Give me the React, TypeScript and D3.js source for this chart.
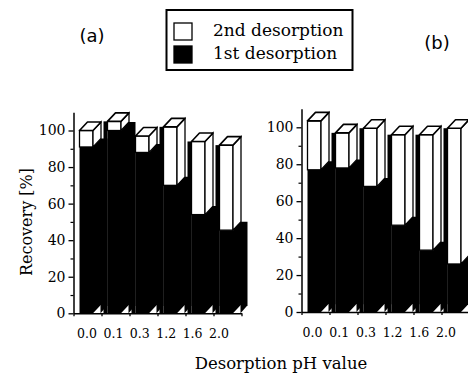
import React, { useEffect, useRef } from "react";
import * as d3 from "d3";

// desorption pH values (x categories)
const phValues = ["0.0", "0.1", "0.3", "1.2", "1.6", "2.0"];
// panel (a)
const firstA = [91, 100, 88, 70, 54, 45.5];
const secondA = [9, 5, 9, 32, 40, 46.5];
// panel (b)
const firstB = [77, 78, 68, 47, 33.5, 26];
const secondB = [26.5, 19, 31.5, 49, 62.5, 73.5];

const yTicks = [0, 20, 40, 60, 80, 100];
const legendItems = [
  { label: "2nd desorption", fill: "#fff" },
  { label: "1st desorption", fill: "#000" },
];

const SERIF = "'DejaVu Serif', serif";

function drawPanel(
  svg: d3.Selection<SVGSVGElement, unknown, null, undefined>,
  axisX: number,
  y0: number,
  pxPerUnit: number,
  labelX0: number,
  labelX1: number,
  first: number[],
  second: number[]
) {
  const step = 28,
    off = 6,
    w = 13.5,
    dx = 8,
    dy = 8.5;
  const g = svg.append("g");

  const x = d3
    .scaleBand()
    .domain(phValues)
    .range([axisX, axisX + step * phValues.length])
    .paddingInner(0)
    .paddingOuter(0);
  const y = d3
    .scaleLinear()
    .domain([0, 110])
    .range([y0, y0 - 110 * pxPerUnit]);
  const base = y(0);

  phValues.forEach((c, i) => {
    const fL = (x(c) as number) + off;
    const fR = fL + w;
    const sR = fR + dx;
    const nFL = fL + step;
    const yF = y(first[i]);
    const yT = y(first[i] + second[i]);

    // dark strip just left of the front face (behind the bar)
    if (i > 0) {
      g.append("rect")
        .attr("x", fL - 4)
        .attr("y", yT)
        .attr("width", 4)
        .attr("height", base - yT)
        .attr("fill", "#000");
    }
    // dark gap to the right, white triangle at the foot
    g.append("polygon")
      .attr(
        "points",
        [
          [sR - 0.5, yF - dy],
          [nFL, yF - dy],
          [nFL, base - 8],
          [sR - 0.5, base],
        ].join(" ")
      )
      .attr("fill", "#000");

    // 1st desorption (black) front + side
    g.append("rect")
      .attr("x", fL)
      .attr("y", yF)
      .attr("width", w)
      .attr("height", base - yF)
      .attr("fill", "#000");
    g.append("polygon")
      .attr(
        "points",
        [
          [fR, yF],
          [sR, yF - dy],
          [sR, base - dy],
          [fR, base],
        ].join(" ")
      )
      .attr("fill", "#000");

    // 2nd desorption (white) front + side
    g.append("rect")
      .attr("x", fL)
      .attr("y", yT)
      .attr("width", w)
      .attr("height", yF - yT)
      .attr("fill", "#fff")
      .attr("stroke", "#000")
      .attr("stroke-width", 1.3);
    g.append("polygon")
      .attr(
        "points",
        [
          [fR, yT],
          [sR, yT - dy],
          [sR, yF - dy],
          [fR, yF],
        ].join(" ")
      )
      .attr("fill", "#fff")
      .attr("stroke", "#000")
      .attr("stroke-width", 1.3);
    // top face
    g.append("polygon")
      .attr(
        "points",
        [
          [fL, yT],
          [fL + dx, yT - dy],
          [sR, yT - dy],
          [fR, yT],
        ].join(" ")
      )
      .attr("fill", "#fff")
      .attr("stroke", "#000")
      .attr("stroke-width", 1.6)
      .attr("stroke-linejoin", "round");
  });

  // Y axis, minor ticks every 10
  g.append("g")
    .attr("transform", `translate(${axisX},0)`)
    .call(
      d3
        .axisLeft(y)
        .tickValues(d3.range(10, 110, 20))
        .tickSize(3)
        .tickSizeOuter(0)
        .tickFormat(() => "")
    )
    .call((a) => a.select(".domain").remove())
    .selectAll("line")
    .attr("stroke-width", 1.2);
  const ya = g
    .append("g")
    .attr("transform", `translate(${axisX},0)`)
    .call(
      d3
        .axisLeft(y)
        .tickValues(yTicks)
        .tickSize(5)
        .tickSizeOuter(0)
        .tickPadding(3)
    )
    .attr("font-family", SERIF)
    .attr("font-size", 14);
  ya.select(".domain").attr("stroke-width", 1.5);
  ya.selectAll("line").attr("stroke-width", 1.3);
  ya.selectAll("text").attr("fill", "#000");

  // X axis
  const xa = g
    .append("g")
    .attr("transform", `translate(0,${base})`)
    .call(
      d3
        .axisBottom(d3.scaleLinear().domain([0, 6]).range([axisX, axisX + step * 6]))
        .ticks(6)
        .tickSize(3)
        .tickSizeOuter(0)
        .tickFormat(() => "")
    );
  xa.select(".domain").attr("stroke-width", 1.5);
  xa.selectAll("line").attr("stroke-width", 1.3);

  const xl = d3.scalePoint().domain(phValues).range([labelX0, labelX1]);
  g.selectAll(".xlab")
    .data(phValues)
    .enter()
    .append("text")
    .attr("x", (d) => xl(d) as number)
    .attr("y", base + 25)
    .attr("text-anchor", "middle")
    .attr("font-family", SERIF)
    .attr("font-size", 12.5)
    .text((d) => d);
}

function createChart(el: SVGSVGElement) {
  const svg = d3.select(el);
  svg.selectAll("*").remove();

  drawPanel(svg, 73.5, 313.3, 1.828, 87, 219, firstA, secondA);
  drawPanel(svg, 301.5, 312, 1.847, 312.5, 446, firstB, secondB);

  // Legend
  svg
    .append("rect")
    .attr("x", 166.5)
    .attr("y", 10)
    .attr("width", 186)
    .attr("height", 60)
    .attr("fill", "#fff")
    .attr("stroke", "#000")
    .attr("stroke-width", 2);
  const lg = svg
    .selectAll(".leg")
    .data(legendItems)
    .enter()
    .append("g")
    .attr("transform", (d, i) => `translate(0,${i * 23})`);
  lg.append("rect")
    .attr("x", 174)
    .attr("y", 23)
    .attr("width", 18)
    .attr("height", 17)
    .attr("fill", (d) => d.fill)
    .attr("stroke", "#000")
    .attr("stroke-width", 1.3);
  lg.append("text")
    .attr("x", 213)
    .attr("y", 36)
    .attr("font-family", SERIF)
    .attr("font-size", 17)
    .text((d) => d.label);

  // panel labels
  svg
    .append("text")
    .attr("x", 92)
    .attr("y", 42)
    .attr("text-anchor", "middle")
    .attr("font-family", "'DejaVu Sans', sans-serif")
    .attr("font-size", 18)
    .text("(a)");
  svg
    .append("text")
    .attr("x", 437)
    .attr("y", 49)
    .attr("text-anchor", "middle")
    .attr("font-family", "'DejaVu Sans', sans-serif")
    .attr("font-size", 18)
    .text("(b)");

  // axis titles
  svg
    .append("text")
    .attr("transform", "translate(32,222) rotate(-90)")
    .attr("text-anchor", "middle")
    .attr("font-family", SERIF)
    .attr("font-size", 16)
    .text("Recovery [%]");
  svg
    .append("text")
    .attr("x", 281)
    .attr("y", 369)
    .attr("text-anchor", "middle")
    .attr("font-family", SERIF)
    .attr("font-size", 16.5)
    .text("Desorption pH value");
}

export default function App() {
  const ref = useRef<SVGSVGElement>(null);
  useEffect(() => {
    if (ref.current) createChart(ref.current);
  }, []);
  return (
    <svg
      ref={ref}
      width={468}
      height={382}
      style={{ position: "absolute", left: 0, top: 0, background: "#fff" }}
    />
  );
}
